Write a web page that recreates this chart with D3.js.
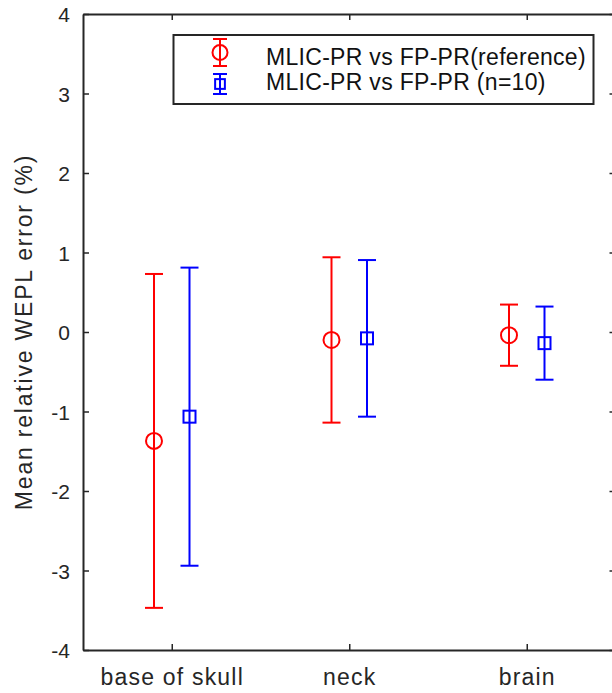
<!DOCTYPE html>
<html>
<head>
<meta charset="utf-8">
<script src="https://d3js.org/d3.v7.min.js"></script>
<style>
  body { margin: 0; background: #fff; }
  svg { display: block; font-family: "Liberation Sans", Arial, sans-serif; }
</style>
</head>
<body>
<div id="chart"></div>
<script>
// categories and values (mean and +/- spread of relative WEPL error, %)
var sites = ["base of skull", "neck", "brain"];
var refMean = [-1.37, -0.10, -0.04];
var refErr = [2.10, 1.04, 0.385];
var n10Mean = [-1.065, -0.08, -0.14];
var n10Err = [1.875, 0.985, 0.46];
var yTicks = [-4, -3, -2, -1, 0, 1, 2, 3, 4];
var legendLabels = ["MLIC-PR vs FP-PR(reference)", "MLIC-PR vs FP-PR (n=10)"];

var W = 612, H = 693;
var margin = {top: 14, right: -3.5, bottom: 43, left: 83};
var axisColor = "#262626";

var svg = d3.select("#chart").append("svg")
    .attr("width", W).attr("height", H);

var x = d3.scaleLinear().domain([0.5, 3.5]).range([margin.left, W - margin.right]);
var y = d3.scaleLinear().domain([-4, 4]).range([H - margin.bottom, margin.top]);

// axes, ticks pointing inwards like matlab
var leftAx = svg.append("g")
    .attr("transform", "translate(" + margin.left + ",0)")
    .call(d3.axisLeft(y).tickValues(yTicks).tickSizeInner(-6).tickSizeOuter(0).tickPadding(13)
        .tickFormat(function(d) { return String(d); }));
var rightAx = svg.append("g")
    .attr("transform", "translate(" + (W - margin.right) + ",0)")
    .call(d3.axisRight(y).tickValues(yTicks).tickSizeInner(-6).tickSizeOuter(0).tickFormat(""));
var bottomAx = svg.append("g")
    .attr("transform", "translate(0," + (H - margin.bottom) + ")")
    .call(d3.axisBottom(x).tickValues([1, 2, 3]).tickSizeInner(-6).tickSizeOuter(0)
        .tickPadding(18).tickFormat(function(d) { return sites[d - 1]; }));
var topAx = svg.append("g")
    .attr("transform", "translate(0," + margin.top + ")")
    .call(d3.axisTop(x).tickValues([1, 2, 3]).tickSizeInner(-6).tickSizeOuter(0).tickFormat(""));

[leftAx, rightAx, bottomAx, topAx].forEach(function(g) {
  g.selectAll("path").attr("stroke", axisColor).attr("stroke-width", 2);
  g.selectAll("line").attr("stroke", axisColor).attr("stroke-width", 1.5);
  g.selectAll("text").attr("fill", axisColor).style("font-family", "Liberation Sans, Arial, sans-serif");
});
leftAx.selectAll("text").style("font-size", "21px").attr("dy", "0.36em");
bottomAx.selectAll("text").style("font-size", "23px").style("letter-spacing", "1.2px").attr("dy", "0.75em");

// y label
svg.append("text")
    .attr("transform", "translate(32," + ((margin.top + H - margin.bottom) / 2) + ") rotate(-90)")
    .attr("text-anchor", "middle")
    .attr("fill", axisColor)
    .style("font-size", "23px")
    .style("letter-spacing", "1.8px")
    .text("Mean relative WEPL error (%)");

// error bars
var series = [
  {mean: refMean, err: refErr, color: "#ff0000", shift: -0.1, marker: "circle"},
  {mean: n10Mean, err: n10Err, color: "#0000ff", shift: 0.1, marker: "square"}
];
var capW = 9;

function drawBar(g, cx, yTop, yBot, yMid, color, marker, cap, size) {
  g.append("line").attr("x1", cx).attr("x2", cx).attr("y1", yTop).attr("y2", yBot)
    .attr("stroke", color).attr("stroke-width", 2);
  g.append("line").attr("x1", cx - cap).attr("x2", cx + cap).attr("y1", yTop).attr("y2", yTop)
    .attr("stroke", color).attr("stroke-width", 2);
  g.append("line").attr("x1", cx - cap).attr("x2", cx + cap).attr("y1", yBot).attr("y2", yBot)
    .attr("stroke", color).attr("stroke-width", 2);
  if (marker === "circle") {
    g.append("circle").attr("cx", cx).attr("cy", yMid).attr("r", size)
      .attr("fill", "none").attr("stroke", color).attr("stroke-width", 2);
  } else {
    g.append("rect").attr("x", cx - size * 0.75).attr("y", yMid - size * 0.75)
      .attr("width", size * 1.5).attr("height", size * 1.5)
      .attr("fill", "none").attr("stroke", color).attr("stroke-width", 2);
  }
}

series.forEach(function(s) {
  var g = svg.append("g");
  sites.forEach(function(site, i) {
    var cx = x(i + 1 + s.shift);
    drawBar(g, cx, y(s.mean[i] + s.err[i]), y(s.mean[i] - s.err[i]), y(s.mean[i]),
      s.color, s.marker, capW, 8);
  });
});

// legend
var leg = svg.append("g");
leg.append("rect").attr("x", 173.5).attr("y", 35).attr("width", 420).attr("height", 69)
  .attr("fill", "#fff").attr("stroke", axisColor).attr("stroke-width", 2);
var legY = [39, 74];
series.forEach(function(s, i) {
  var top0 = legY[i], bot0 = legY[i] + (i === 0 ? 27 : 20);
  drawBar(leg, 220, top0, bot0, (top0 + bot0) / 2, s.color, s.marker, 7, i === 0 ? 7.5 : 6.5);
  leg.append("text").attr("x", 266).attr("y", i === 0 ? 65 : 90)
    .attr("fill", "#111")
    .style("font-size", "23px").style("letter-spacing", "0.3px")
    .text(legendLabels[i]);
});
</script>
</body>
</html>
